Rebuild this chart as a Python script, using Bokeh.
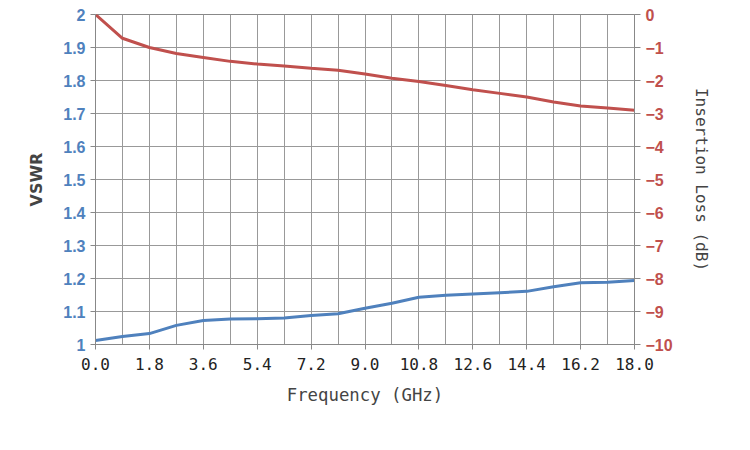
from bokeh.plotting import figure
from bokeh.models import Range1d, LinearAxis, FixedTicker
from bokeh.embed import file_html
from bokeh.resources import INLINE

freq = [0.0, 0.9, 1.8, 2.7, 3.6, 4.5, 5.4, 6.3, 7.2, 8.1, 9.0, 9.9, 10.8, 11.7, 12.6, 13.5, 14.4, 15.3, 16.2, 17.1, 18.0]
vswr = [1.012, 1.024, 1.033, 1.058, 1.073, 1.077, 1.078, 1.080, 1.088, 1.093, 1.110, 1.125, 1.143, 1.149, 1.153, 1.157, 1.161, 1.175, 1.187, 1.189, 1.194]
loss = [0.0, -0.72, -1.0, -1.18, -1.3, -1.42, -1.5, -1.56, -1.63, -1.69, -1.8, -1.93, -2.03, -2.15, -2.28, -2.39, -2.5, -2.65, -2.77, -2.83, -2.9]
x_ticks = [0.0, 1.8, 3.6, 5.4, 7.2, 9.0, 10.8, 12.6, 14.4, 16.2, 18.0]

blue = "#4F81BD"
red = "#C0504D"

p = figure(width=734, height=434, output_backend="svg", toolbar_location=None,
           x_range=Range1d(0, 18), y_range=Range1d(1, 2),
           frame_width=539, frame_height=330,
           min_border_left=95, min_border_top=14, min_border_right=100, min_border_bottom=90)
p.extra_y_ranges = {"il": Range1d(-10, 0)}
p.outline_line_color = "#888888"
p.background_fill_color = "white"

p.xaxis.ticker = FixedTicker(ticks=x_ticks, minor_ticks=[i * 0.9 for i in range(21)])
p.xaxis.major_label_overrides = {t: f"{t:.1f}" for t in x_ticks}
p.xaxis.axis_label = "Frequency (GHz)"
p.xaxis.axis_label_text_font = "DejaVu Sans Mono"
p.xaxis.axis_label_text_font_style = "normal"
p.xaxis.axis_label_text_font_size = "13pt"
p.xaxis.axis_label_standoff = 12
p.xaxis.major_label_text_font = "DejaVu Sans Mono"
p.xaxis.major_label_text_font_size = "12pt"
p.xaxis.major_label_text_color = "#222222"
p.xaxis.major_label_standoff = 8
p.xaxis.minor_tick_line_color = None
p.xgrid.ticker = FixedTicker(ticks=[i * 0.9 for i in range(21)])

yt = [1 + i / 10 for i in range(11)]
p.yaxis.ticker = FixedTicker(ticks=yt)
p.yaxis.major_label_overrides = {t: (f"{t:.1f}" if i not in (0, 10) else str(int(round(t)))) for i, t in enumerate(yt)}
p.yaxis.axis_label = "VSWR"
p.yaxis.axis_label_text_font_style = "bold"
p.yaxis.axis_label_text_font = "DejaVu Sans"
p.yaxis.axis_label_text_font_size = "12pt"
p.yaxis.axis_label_standoff = 14
p.yaxis.major_label_text_color = blue
p.yaxis.major_label_text_font_style = "bold"
p.yaxis.major_label_text_font_size = "12pt"
p.yaxis.minor_tick_line_color = None

for ax in (p.xaxis, p.yaxis):
    ax.axis_line_color = "#888888"
    ax.major_tick_line_color = "#888888"
    ax.major_tick_out = 5
    ax.major_tick_in = 0

p.xgrid.grid_line_color = "#999999"
p.ygrid.grid_line_color = "#999999"

ra = LinearAxis(y_range_name="il", ticker=FixedTicker(ticks=list(range(-10, 1))),
                axis_label="Insertion Loss (dB)")
ra.axis_label_text_font = "DejaVu Sans Mono"
ra.axis_label_text_font_style = "normal"
ra.axis_label_text_font_size = "12pt"
ra.axis_label_orientation = "vertical"
ra.axis_label_standoff = 16
ra.major_label_text_color = red
ra.major_label_text_font_style = "bold"
ra.major_label_text_font_size = "12pt"
ra.axis_line_color = "#888888"
ra.major_tick_line_color = "#888888"
ra.major_tick_in = 0
ra.minor_tick_line_color = None
p.add_layout(ra, "right")

p.line(freq, vswr, line_color=blue, line_width=3)
p.line(freq, loss, line_color=red, line_width=3, y_range_name="il")

open("out.html", "w").write(file_html(p, INLINE))
